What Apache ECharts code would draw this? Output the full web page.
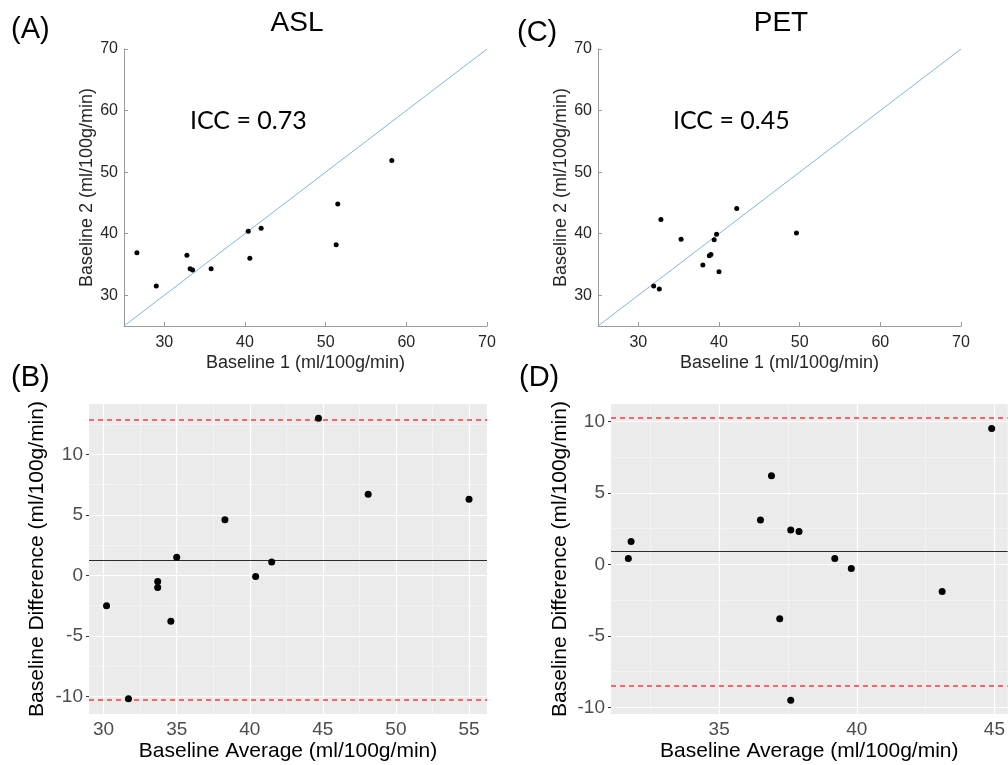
<!DOCTYPE html>
<html>
<head>
<meta charset="utf-8">
<script src="https://cdn.jsdelivr.net/npm/echarts@6/dist/echarts.min.js"></script>
<style>
  html, body { margin: 0; padding: 0; background: #ffffff; }
  #chart { width: 1008px; height: 765px; }
</style>
</head>
<body>
<div id="chart"></div>
<script>
// Test–retest baselines, ml/100g/min
const aslBaseline1 = [26.6, 29.0, 32.8, 33.2, 33.5, 35.8, 40.4, 40.6, 42.0, 51.3, 51.5, 58.2];
const aslBaseline2 = [36.9, 31.5, 36.5, 34.3, 34.1, 34.3, 40.4, 36.0, 40.9, 38.2, 44.8, 51.9];
const petBaseline1 = [31.9, 32.6, 32.8, 35.3, 38.0, 38.8, 39.0, 39.4, 39.7, 40.0, 42.2, 49.6];
const petBaseline2 = [31.5, 31.0, 42.3, 39.1, 34.9, 36.4, 36.6, 39.0, 39.9, 33.8, 44.1, 40.1];

// Bland–Altman: mean of the two baselines vs. their difference
const aslAverage    = [30.2, 31.7, 33.7, 33.7, 34.6, 35.0, 38.3, 40.4, 41.5, 44.7, 48.1, 55.0];
const aslDifference = [-2.5, -10.2, -0.5, -1.0, -3.8, 1.5, 4.6, -0.1, 1.1, 13.0, 6.7, 6.3];
const petAverage    = [31.7, 31.8, 36.5, 36.9, 37.2, 37.6, 37.6, 37.9, 39.2, 39.8, 43.1, 44.9];
const petDifference = [0.4, 1.6, 3.1, 6.2, -3.8, 2.4, -9.5, 2.3, 0.4, -0.3, -1.9, 9.5];

// Mean bias and limits of agreement
const aslBias = 1.27;
const aslLimits = [-10.3, 12.87];
const petBias = 0.89;
const petLimits = [-8.47, 10.23];

// Intraclass correlation
const aslICC = 0.73;
const petICC = 0.45;

// Axis ranges and ticks
const scatterRange = [25, 70];
const scatterTicks = [30, 40, 50, 60, 70];
const aslAvgRange = [29.0, 56.23];
const aslDiffRange = [-11.46, 14.17];
const petAvgRange = [31.07, 45.48];
const petDiffRange = [-10.47, 11.21];
const aslAvgTicks = [30, 35, 40, 45, 50, 55];
const aslAvgMinor = [32.5, 37.5, 42.5, 47.5, 52.5];
const aslDiffTicks = [-10, -5, 0, 5, 10];
const aslDiffMinor = [-7.5, -2.5, 2.5, 7.5, 12.5];
const petAvgTicks = [35, 40, 45];
const petAvgMinor = [32.5, 37.5, 42.5];
const petDiffTicks = [-10, -5, 0, 5, 10];
const petDiffMinor = [-7.5, -2.5, 2.5, 7.5];

const SANS = '"Liberation Sans", Arial, Helvetica, sans-serif';
const zip = (a, b) => a.map((v, i) => [v, b[i]]);

function matlabX(grid, name) {
  return {
    gridIndex: grid, type: 'value', min: scatterRange[0], max: scatterRange[1],
    axisLine: { show: true, lineStyle: { color: '#9a9a9a', width: 1 } },
    axisTick: { show: true, inside: true, length: 4, customValues: scatterTicks, lineStyle: { color: '#9a9a9a' } },
    axisLabel: { customValues: scatterTicks, color: '#262626', fontSize: 16, fontFamily: SANS, margin: 9 },
    splitLine: { show: false },
    name: name, nameLocation: 'middle', nameGap: 28,
    nameTextStyle: { color: '#262626', fontSize: 18, fontFamily: SANS }
  };
}
function matlabY(grid, name) {
  return {
    gridIndex: grid, type: 'value', min: scatterRange[0], max: scatterRange[1],
    axisLine: { show: true, lineStyle: { color: '#9a9a9a', width: 1 } },
    axisTick: { show: true, inside: true, length: 4, customValues: scatterTicks, lineStyle: { color: '#9a9a9a' } },
    axisLabel: { customValues: scatterTicks, color: '#262626', fontSize: 16, fontFamily: SANS, margin: 6 },
    splitLine: { show: false },
    name: name, nameLocation: 'middle', nameGap: 28, nameRotate: 90,
    nameTextStyle: { color: '#262626', fontSize: 18, fontFamily: SANS }
  };
}
function ggAxis(dim, grid, range, ticks, name, gap) {
  const ax = {
    gridIndex: grid, type: 'value', min: range[0], max: range[1],
    axisLine: { show: false },
    axisTick: { show: true, length: 3, customValues: ticks, lineStyle: { color: '#333333' } },
    axisLabel: { customValues: ticks, color: '#4d4d4d', fontSize: 19, fontFamily: SANS, margin: 6 },
    splitLine: { show: false },
    name: name, nameLocation: 'middle', nameGap: gap,
    nameTextStyle: { color: '#000000', fontSize: 21, fontFamily: SANS }
  };
  if (dim === 'y') ax.nameRotate = 90;
  return ax;
}

// Full-width / full-height reference lines of one style, placed via the axes
function refLines(idx, xs, ys, style, z) {
  const data = []
    .concat(xs.map(v => ({ xAxis: v })))
    .concat(ys.map(v => ({ yAxis: v })));
  return {
    type: 'scatter', xAxisIndex: idx, yAxisIndex: idx, data: [], z: z, silent: true,
    itemStyle: { color: style.color },
    markLine: {
      z: z, silent: true, symbol: ['none', 'none'], label: { show: false }, animation: false,
      lineStyle: Object.assign({}, style), emphasis: { disabled: true }, data: data
    }
  };
}
const majorGrid = { color: '#ffffff', width: 1.2, type: 'solid', opacity: 1 };
const minorGrid = { color: '#f7f7f7', width: 0.7, type: 'solid', opacity: 1 };
const biasStyle = { color: '#2b2b2b', width: 1.2, type: 'solid', opacity: 1 };
const limitStyle = { color: '#ff3b3b', width: 1.5, type: [5, 4], opacity: 1 };

function identity(idx) {
  return {
    type: 'line', xAxisIndex: idx, yAxisIndex: idx, z: 2, silent: true,
    data: zip(scatterRange, scatterRange), symbol: 'none', showSymbol: false,
    lineStyle: { color: '#7db7e2', width: 1 }
  };
}
function points(idx, xs, ys, size) {
  return {
    type: 'scatter', xAxisIndex: idx, yAxisIndex: idx, z: 6,
    data: zip(xs, ys), symbol: 'circle', symbolSize: size,
    itemStyle: { color: '#000000', opacity: 1 }
  };
}
function label(text, x, y, size, align, font) {
  return {
    type: 'text', x: x, y: y, silent: true,
    style: {
      text: text, fill: '#000000', font: size + 'px ' + (font || SANS),
      textAlign: align, align: align, textVerticalAlign: 'middle', verticalAlign: 'middle'
    }
  };
}

const chart = echarts.init(document.getElementById('chart'), null, { renderer: 'canvas' });
chart.setOption({
  animation: false,
  backgroundColor: '#ffffff',
  grid: [
    { left: 124, top: 49, width: 363, height: 277 },
    { left: 598, top: 49, width: 363, height: 277 },
    { left: 89, top: 404, width: 398, height: 310, show: true, backgroundColor: '#ebebeb', borderWidth: 0 },
    { left: 611, top: 404, width: 397, height: 310, show: true, backgroundColor: '#ebebeb', borderWidth: 0 }
  ],
  xAxis: [
    matlabX(0, 'Baseline 1 (ml/100g/min)'),
    matlabX(1, 'Baseline 1 (ml/100g/min)'),
    ggAxis('x', 2, aslAvgRange, aslAvgTicks, 'Baseline Average (ml/100g/min)', 27),
    ggAxis('x', 3, petAvgRange, petAvgTicks, 'Baseline Average (ml/100g/min)', 27)
  ],
  yAxis: [
    matlabY(0, 'Baseline 2 (ml/100g/min)'),
    matlabY(1, 'Baseline 2 (ml/100g/min)'),
    ggAxis('y', 2, aslDiffRange, aslDiffTicks, 'Baseline Difference (ml/100g/min)', 41),
    ggAxis('y', 3, petDiffRange, petDiffTicks, 'Baseline Difference (ml/100g/min)', 40)
  ],
  series: [
    identity(0),
    points(0, aslBaseline1, aslBaseline2, 5),
    identity(1),
    points(1, petBaseline1, petBaseline2, 5),

    refLines(2, aslAvgMinor, aslDiffMinor, minorGrid, 1),
    refLines(2, aslAvgTicks, aslDiffTicks, majorGrid, 2),
    refLines(2, [], [aslBias], biasStyle, 3),
    refLines(2, [], aslLimits, limitStyle, 3),
    points(2, aslAverage, aslDifference, 7),

    refLines(3, petAvgMinor, petDiffMinor, minorGrid, 1),
    refLines(3, petAvgTicks, petDiffTicks, majorGrid, 2),
    refLines(3, [], [petBias], biasStyle, 3),
    refLines(3, [], petLimits, limitStyle, 3),
    points(3, petAverage, petDifference, 7)
  ],
  graphic: [
    label('(A)', 11, 30, 29, 'left'),
    label('ASL', 297, 23, 28, 'center'),
    label('(C)', 517, 33, 29, 'left'),
    label('PET', 781, 23, 28, 'center'),
    label('ICC = ' + aslICC.toFixed(2), 190, 121, 25, 'left', 'Lato, "Open Sans", sans-serif'),
    label('ICC = ' + petICC.toFixed(2), 673, 121, 25, 'left', 'Lato, "Open Sans", sans-serif'),
    label('(B)', 11, 378, 29, 'left'),
    label('(D)', 519, 378, 29, 'left')
  ]
});
</script>
</body>
</html>
